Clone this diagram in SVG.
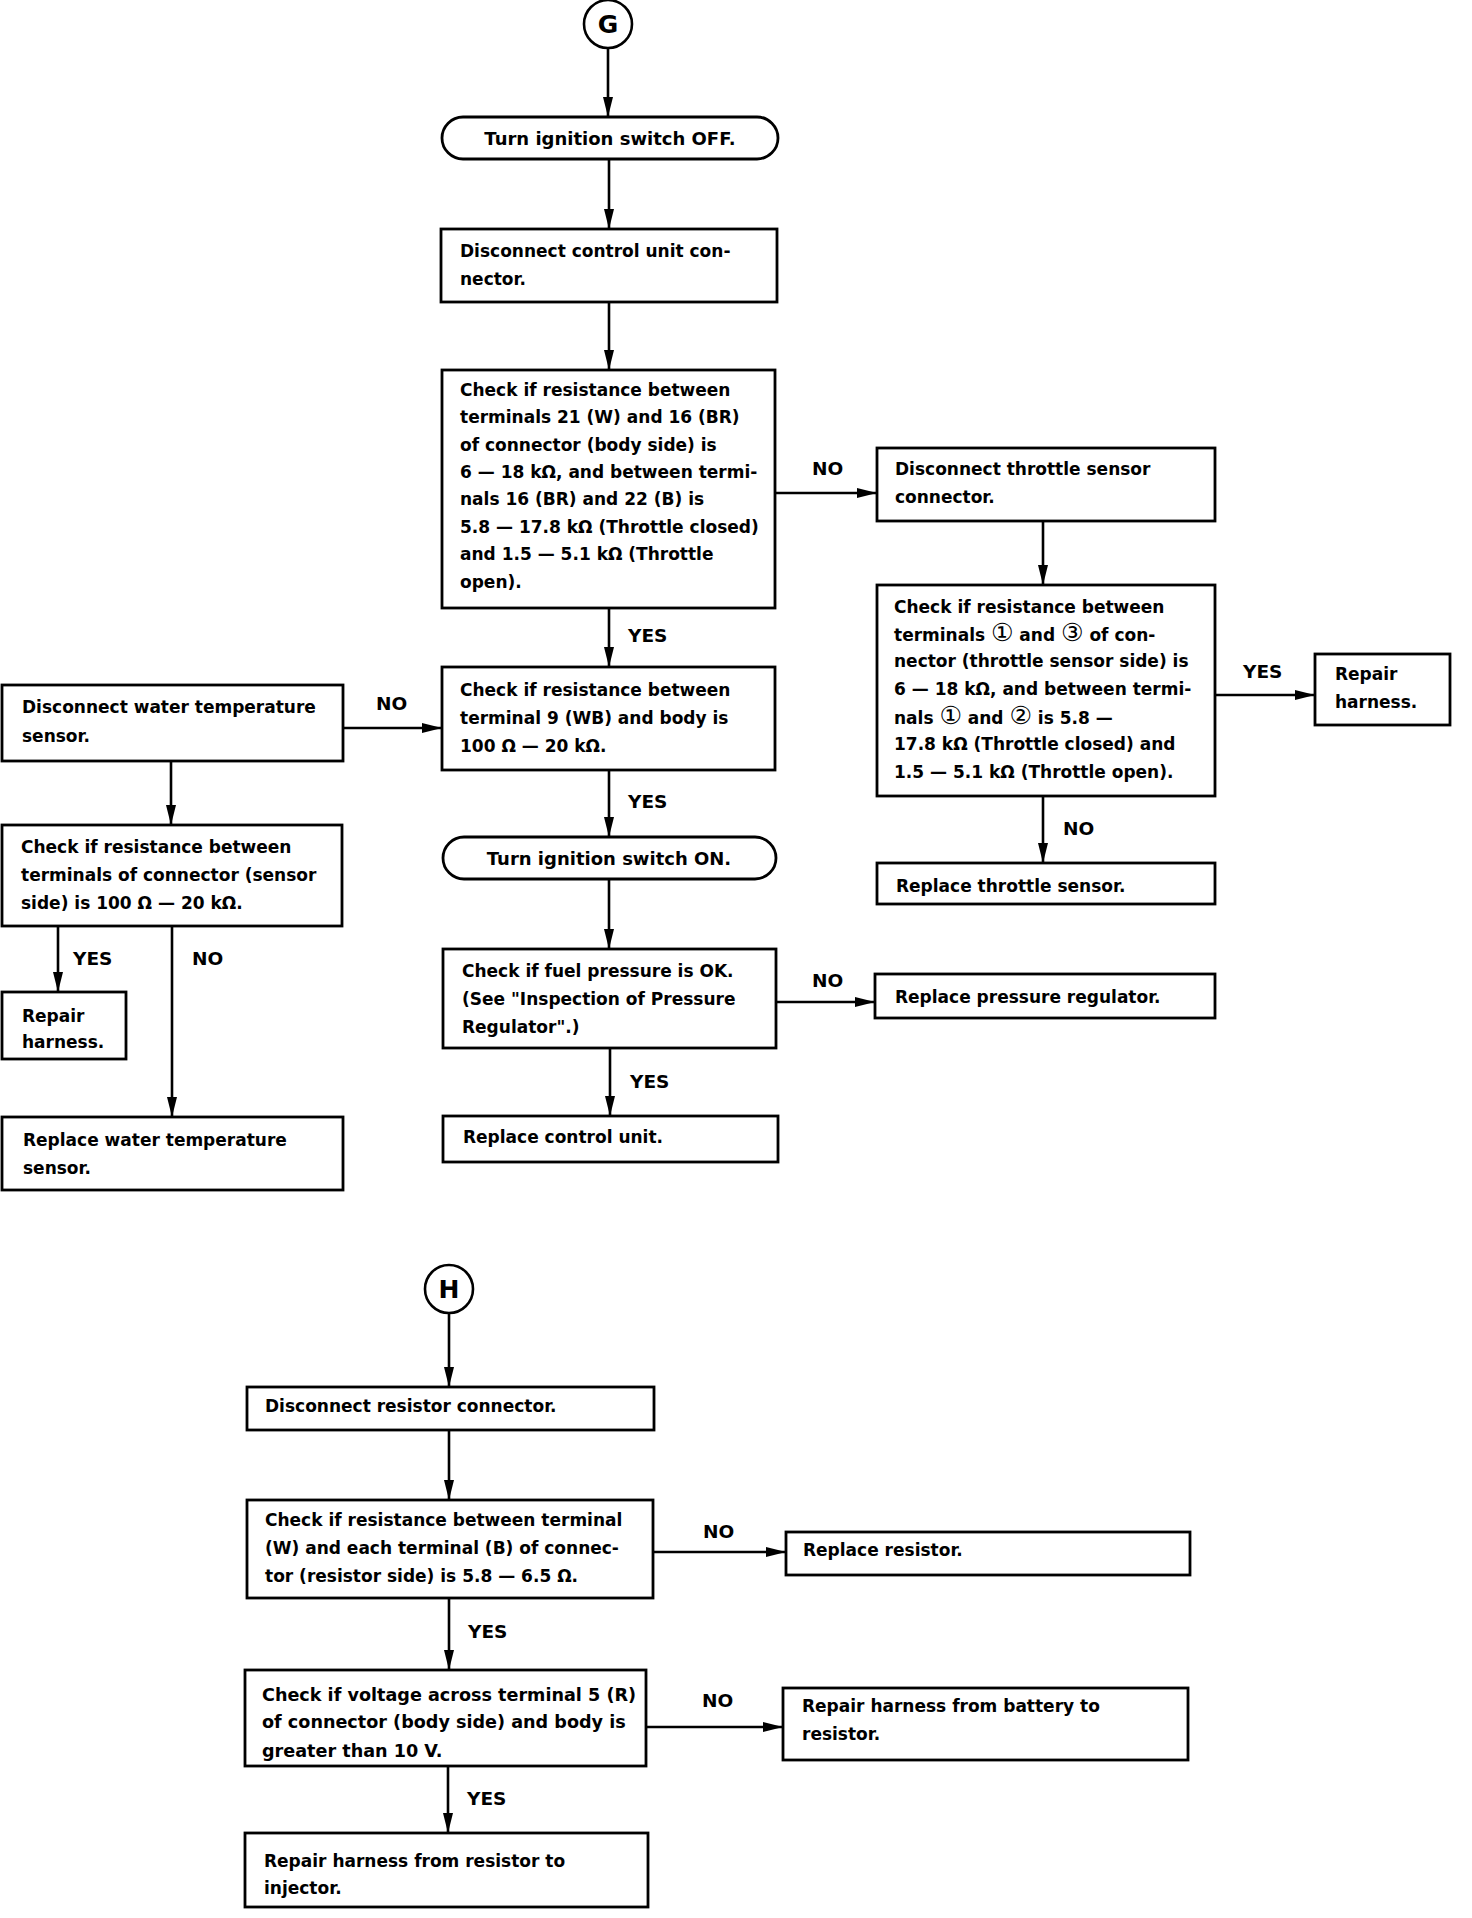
<svg xmlns="http://www.w3.org/2000/svg" width="1472" height="1918" viewBox="0 0 1472 1918">
<style>
.bx{fill:#fff;stroke:#000;stroke-width:2.8}
.t{font-family:"DejaVu Sans","Liberation Sans",sans-serif;font-weight:bold;font-size:17px;fill:#000}
.t18{font-size:18px}
.tv{font-size:17.6px}
.lb{font-family:"DejaVu Sans","Liberation Sans",sans-serif;font-weight:bold;font-size:18.5px;fill:#000}
.cl{font-family:"DejaVu Sans","Liberation Sans",sans-serif;font-weight:bold;font-size:25px;fill:#000}
.cn{font-size:25px;font-weight:normal}
.ln{fill:none;stroke:#000;stroke-width:2.6;marker-end:url(#ah)}
</style>
<defs>
<marker id="ah" markerUnits="userSpaceOnUse" markerWidth="20" markerHeight="10" viewBox="0 0 20 10" refX="20" refY="5" orient="auto">
<path d="M0,0 L20,5 L0,10 z" fill="#000"/>
</marker>
</defs>
<rect width="1472" height="1918" fill="#fff"/>

<g id="connectors">
<line class="ln" x1="608" y1="48" x2="608" y2="117"/>
<line class="ln" x1="609" y1="159" x2="609" y2="229"/>
<line class="ln" x1="609" y1="302" x2="609" y2="370"/>
<line class="ln" x1="775" y1="493" x2="877" y2="493"/>
<line class="ln" x1="1043" y1="521" x2="1043" y2="585"/>
<line class="ln" x1="1215" y1="695" x2="1315" y2="695"/>
<line class="ln" x1="1043" y1="796" x2="1043" y2="863"/>
<line class="ln" x1="609" y1="608" x2="609" y2="667"/>
<line class="ln" x1="343" y1="728" x2="442" y2="728"/>
<line class="ln" x1="171" y1="761" x2="171" y2="825"/>
<line class="ln" x1="58" y1="926" x2="58" y2="992"/>
<line class="ln" x1="172" y1="926" x2="172" y2="1117"/>
<line class="ln" x1="609" y1="770" x2="609" y2="837"/>
<line class="ln" x1="609" y1="879" x2="609" y2="949"/>
<line class="ln" x1="776" y1="1002" x2="875" y2="1002"/>
<line class="ln" x1="610" y1="1048" x2="610" y2="1116"/>
<line class="ln" x1="449" y1="1313" x2="449" y2="1387"/>
<line class="ln" x1="449" y1="1430" x2="449" y2="1500"/>
<line class="ln" x1="653" y1="1552" x2="786" y2="1552"/>
<line class="ln" x1="449" y1="1598" x2="449" y2="1670"/>
<line class="ln" x1="646" y1="1727" x2="783" y2="1727"/>
<line class="ln" x1="448" y1="1766" x2="448" y2="1833"/>
<text class="lb" x="812" y="475">NO</text>
<text class="lb" x="628" y="642">YES</text>
<text class="lb" x="376" y="710">NO</text>
<text class="lb" x="628" y="808">YES</text>
<text class="lb" x="1243" y="678">YES</text>
<text class="lb" x="1063" y="835">NO</text>
<text class="lb" x="73" y="965">YES</text>
<text class="lb" x="192" y="965">NO</text>
<text class="lb" x="812" y="987">NO</text>
<text class="lb" x="630" y="1088">YES</text>
<text class="lb" x="703" y="1538">NO</text>
<text class="lb" x="468" y="1638">YES</text>
<text class="lb" x="702" y="1707">NO</text>
<text class="lb" x="467" y="1805">YES</text>
</g>

<g id="G">
<circle cx="608" cy="24" r="24" fill="#fff" stroke="#000" stroke-width="2.6"/>
<text class="cl" x="608" y="33" text-anchor="middle">G</text>
</g>
<g id="pillOff">
<rect class="bx" x="442" y="117" width="336" height="42" rx="21"/>
<text class="t t18" x="610" y="145" text-anchor="middle">Turn ignition switch OFF.</text>
</g>
<g id="discCU">
<rect class="bx" x="441" y="229" width="336" height="73"/>
<text class="t" x="460" y="257">Disconnect control unit con-</text>
<text class="t" x="460" y="285">nector.</text>
</g>
<g id="check1">
<rect class="bx" x="442" y="370" width="333" height="238"/>
<text class="t" x="460" y="396">Check if resistance between</text>
<text class="t" x="460" y="423">terminals 21 (W) and 16 (BR)</text>
<text class="t" x="460" y="451">of connector (body side) is</text>
<text class="t" x="460" y="478">6 — 18 kΩ, and between termi-</text>
<text class="t" x="460" y="505">nals 16 (BR) and 22 (B) is</text>
<text class="t" x="460" y="533">5.8 — 17.8 kΩ (Throttle closed)</text>
<text class="t" x="460" y="560">and 1.5 — 5.1 kΩ (Throttle</text>
<text class="t" x="460" y="588">open).</text>
</g>
<g id="thrDisc">
<rect class="bx" x="877" y="448" width="338" height="73"/>
<text class="t" x="895" y="475">Disconnect throttle sensor</text>
<text class="t" x="895" y="503">connector.</text>
</g>
<g id="check2">
<rect class="bx" x="877" y="585" width="338" height="211"/>
<text class="t" x="894" y="613">Check if resistance between</text>
<text class="t" x="894" y="641">terminals <tspan class="cn">①</tspan> and <tspan class="cn">③</tspan> of con-</text>
<text class="t" x="894" y="667">nector (throttle sensor side) is</text>
<text class="t" x="894" y="695">6 — 18 kΩ, and between termi-</text>
<text class="t" x="894" y="724">nals <tspan class="cn">①</tspan> and <tspan class="cn">②</tspan> is 5.8 —</text>
<text class="t" x="894" y="750">17.8 kΩ (Throttle closed) and</text>
<text class="t" x="894" y="778">1.5 — 5.1 kΩ (Throttle open).</text>
</g>
<g id="repairR">
<rect class="bx" x="1315" y="654" width="135" height="71"/>
<text class="t" x="1335" y="680">Repair</text>
<text class="t" x="1335" y="708">harness.</text>
</g>
<g id="replThr">
<rect class="bx" x="877" y="863" width="338" height="41"/>
<text class="t" x="896" y="892">Replace throttle sensor.</text>
</g>
<g id="check3">
<rect class="bx" x="442" y="667" width="333" height="103"/>
<text class="t" x="460" y="696">Check if resistance between</text>
<text class="t" x="460" y="724">terminal 9 (WB) and body is</text>
<text class="t" x="460" y="752">100 Ω — 20 kΩ.</text>
</g>
<g id="waterDisc">
<rect class="bx" x="2" y="685" width="341" height="76"/>
<text class="t" x="22" y="713">Disconnect water temperature</text>
<text class="t" x="22" y="742">sensor.</text>
</g>
<g id="checkSensor">
<rect class="bx" x="2" y="825" width="340" height="101"/>
<text class="t" x="21" y="853">Check if resistance between</text>
<text class="t" x="21" y="881">terminals of connector (sensor</text>
<text class="t" x="21" y="909">side) is 100 Ω — 20 kΩ.</text>
</g>
<g id="repairL">
<rect class="bx" x="2" y="992" width="124" height="67"/>
<text class="t" x="22" y="1022">Repair</text>
<text class="t" x="22" y="1048">harness.</text>
</g>
<g id="replWater">
<rect class="bx" x="2" y="1117" width="341" height="73"/>
<text class="t" x="23" y="1146">Replace water temperature</text>
<text class="t" x="23" y="1174">sensor.</text>
</g>
<g id="pillOn">
<rect class="bx" x="443" y="837" width="333" height="42" rx="21"/>
<text class="t t18" x="609" y="865" text-anchor="middle">Turn ignition switch ON.</text>
</g>
<g id="fuel">
<rect class="bx" x="443" y="949" width="333" height="99"/>
<text class="t" x="462" y="977">Check if fuel pressure is OK.</text>
<text class="t" x="462" y="1005">(See "Inspection of Pressure</text>
<text class="t" x="462" y="1033">Regulator".)</text>
</g>
<g id="replPR">
<rect class="bx" x="875" y="974" width="340" height="44"/>
<text class="t" x="895" y="1003">Replace pressure regulator.</text>
</g>
<g id="replCU">
<rect class="bx" x="443" y="1116" width="335" height="46"/>
<text class="t" x="463" y="1143">Replace control unit.</text>
</g>

<g id="H">
<circle cx="449" cy="1289" r="24" fill="#fff" stroke="#000" stroke-width="2.6"/>
<text class="cl" x="449" y="1298" text-anchor="middle">H</text>
</g>
<g id="discRes">
<rect class="bx" x="247" y="1387" width="407" height="43"/>
<text class="t" x="265" y="1412">Disconnect resistor connector.</text>
</g>
<g id="checkRes">
<rect class="bx" x="247" y="1500" width="406" height="98"/>
<text class="t" x="265" y="1526">Check if resistance between terminal</text>
<text class="t" x="265" y="1554">(W) and each terminal (B) of connec-</text>
<text class="t" x="265" y="1582">tor (resistor side) is 5.8 — 6.5 Ω.</text>
</g>
<g id="replRes">
<rect class="bx" x="786" y="1532" width="404" height="43"/>
<text class="t" x="803" y="1556">Replace resistor.</text>
</g>
<g id="voltage">
<rect class="bx" x="245" y="1670" width="401" height="96"/>
<text class="t tv" x="262" y="1701">Check if voltage across terminal 5 (R)</text>
<text class="t tv" x="262" y="1728">of connector (body side) and body is</text>
<text class="t tv" x="262" y="1757">greater than 10 V.</text>
</g>
<g id="repairBat">
<rect class="bx" x="783" y="1688" width="405" height="72"/>
<text class="t" x="802" y="1712">Repair harness from battery to</text>
<text class="t" x="802" y="1740">resistor.</text>
</g>
<g id="repairInj">
<rect class="bx" x="245" y="1833" width="403" height="74"/>
<text class="t" x="264" y="1867">Repair harness from resistor to</text>
<text class="t" x="264" y="1894">injector.</text>
</g>
</svg>
